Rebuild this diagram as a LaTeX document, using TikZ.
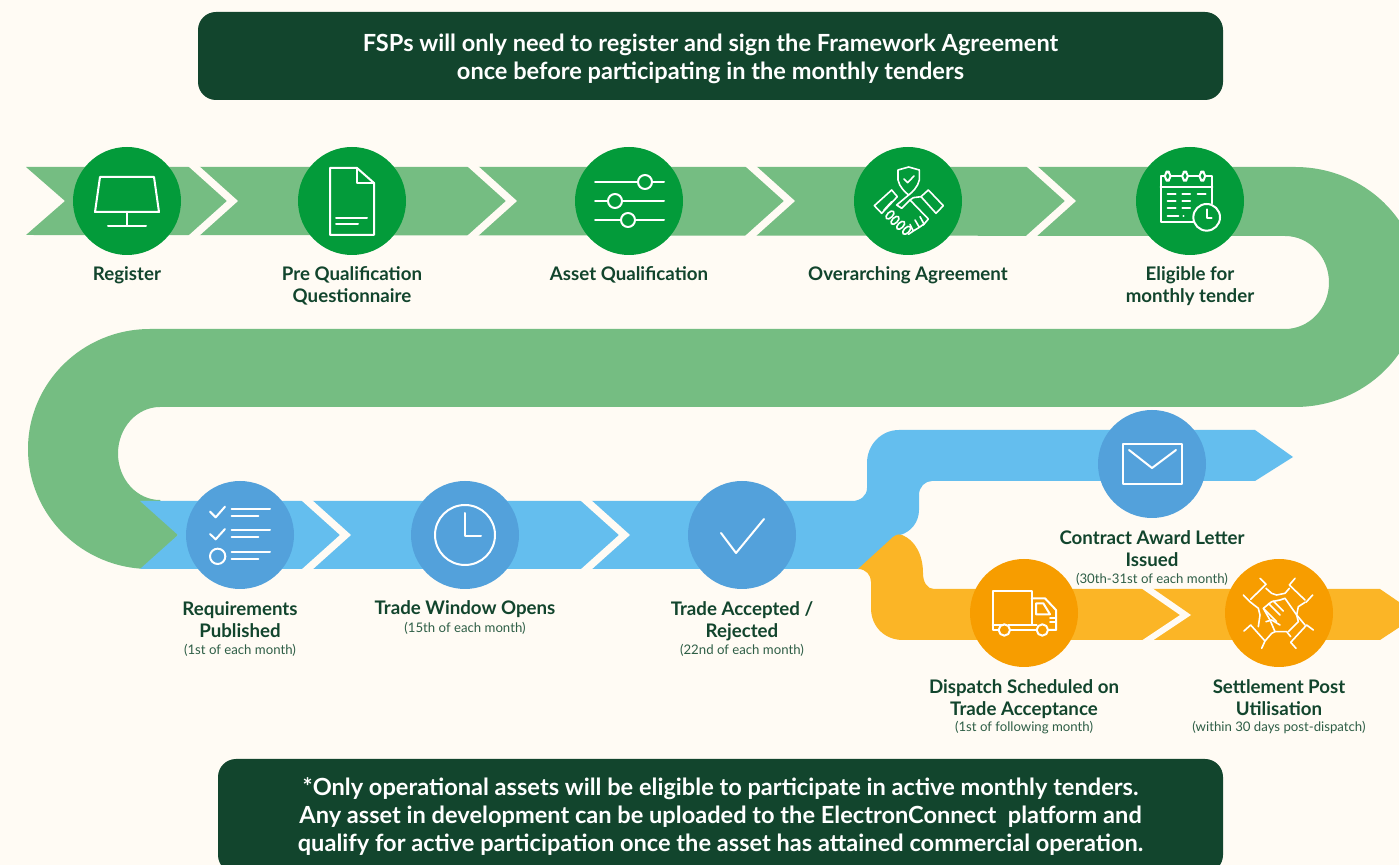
\documentclass[tikz,border=0pt]{standalone}
\usepackage{fontspec}
\setmainfont{Lato}
\definecolor{paper}{HTML}{FFFBF4}
\definecolor{darkgrn}{HTML}{12452D}
\definecolor{subgrn}{HTML}{2E5E46}
\definecolor{midgrn}{HTML}{039B3A}
\definecolor{bandgrn}{HTML}{75BD82}
\definecolor{bandblu}{HTML}{64BEEE}
\definecolor{midblu}{HTML}{53A1DB}
\definecolor{bandorg}{HTML}{FBB526}
\definecolor{midorg}{HTML}{F79D00}
\tikzset{
  stepnode/.style={circle,minimum size=54pt,inner sep=0pt,fill=#1},
  steplbl/.style={text=darkgrn,font=\bfseries\fontsize{9.35}{11}\selectfont,align=center,inner sep=0pt},
  datelbl/.style={text=subgrn,font=\fontsize{6.6}{8}\selectfont,align=center,inner sep=0pt},
  banner/.style={fill=darkgrn,rounded corners=9pt,inner sep=0pt},
  bannertxt/.style={text=white,align=center,inner sep=0pt,font=\bfseries\fontsize{11.8}{14}\selectfont},
  icon/.style={draw=white,line width=1pt,line join=round,line cap=round},
  thinicon/.style={icon,line width=.8pt},
  gapmark/.style={fill=paper}
}
\begin{document}
\begin{tikzpicture}[x=.5pt,y=-.5pt]
  \useasboundingbox (0,0) rectangle (1399,865);
  \clip (0,0) rectangle (1399,865);
  \fill [paper] (0,0) rectangle (1399,865);

  % the three bands
  \fill [bandgrn] (26,167) -- (1295,167) arc [start angle=-90,end angle=90,x radius=125,y radius=120]
    -- (160,407) arc [start angle=-90,end angle=-270,x radius=42,y radius=46.5]
    -- (178,535) -- (150,569) arc [start angle=90,end angle=270,x radius=122,y radius=120]
    -- (1285,329) arc [start angle=90,end angle=-90,x radius=44,y radius=46.5]
    -- (26,235) -- (65,201) -- cycle;
  \fill [bandblu] (140,501) -- (852,501) .. controls (860,501) and (867,496) .. (867,488)
    -- (867,463) .. controls (867,445) and (881,430) .. (899,430)
    -- (1255,430) -- (1293,457) -- (1255,481) -- (932,481)
    .. controls (925,481) and (919,487) .. (919,495)
    -- (919,510) .. controls (919,522) and (911,532) .. (900,535)
    -- (858,569) -- (140,569) -- (178,535) -- cycle;
  \fill [bandorg] (858,569) -- (893,537) .. controls (897,534) and (900,534) .. (902,535)
    .. controls (915,540) and (923,555) .. (923,573)
    .. controls (923,582) and (927,589) .. (934,589)
    -- (1380,589) -- (1418,615) -- (1380,640) -- (903,640)
    .. controls (885,640) and (871,627) .. (871,608)
    -- (871,582) .. controls (871,575) and (866,569) .. (858,569) -- cycle;

  % gaps between the arrows
  \foreach \a/\t/\m/\b in {188/166/201/236,467/166/201/236,745/166/201/236,1026/166/201/236,
      301/500/535/570,580/500/535/570,1141/588/615/641}
    \fill [gapmark] (\a,\t) -- (\a+39,\m) -- (\a,\b) -- (\a+11,\b) -- (\a+50,\m) -- (\a+11,\t) -- cycle;

  % banners
  \node [banner,minimum width=512.5pt,minimum height=44pt] (topbox) at (710.5,56) {};
  \node [bannertxt] (toptxt) at (710.5,58.5)
    {FSPs will only need to register and sign the Framework Agreement\\once before participating in the monthly tenders};
  \node [banner,minimum width=502.5pt,minimum height=57pt] (botbox) at (720.5,816) {};
  \node [bannertxt] (bottxt) at (720.5,817)
    {*Only operational assets will be eligible to participate in active monthly tenders.\\Any asset in development can be uploaded to the ElectronConnect\ \ platform and\\qualify for active participation once the asset has attained commercial operation.};

  % step circles
  \node [stepnode=midgrn] (reg) at (127,201) {};
  \node [stepnode=midgrn] (pqq) at (352,201) {};
  \node [stepnode=midgrn] (asset) at (629,201) {};
  \node [stepnode=midgrn] (agree) at (908,201) {};
  \node [stepnode=midgrn] (elig) at (1190,201) {};
  \node [stepnode=midblu] (req) at (240,535) {};
  \node [stepnode=midblu] (window) at (465,535) {};
  \node [stepnode=midblu] (accept) at (742,535) {};
  \node [stepnode=midblu] (award) at (1152,464) {};
  \node [stepnode=midorg] (dispatch) at (1024,613) {};
  \node [stepnode=midorg] (settle) at (1279,613) {};

  % labels
  \node [steplbl] (reglbl) at (127,275) {Register};
  \node [steplbl] (pqqlbl) at (352,285.5) {Pre Qualification\\Questionnaire};
  \node [steplbl] (assetlbl) at (629,274.5) {Asset Qualification};
  \node [steplbl] (agreelbl) at (908,275) {Overarching Agreement};
  \node [steplbl] (eliglbl) at (1190,286.5) {Eligible for\\monthly tender};
  \node [steplbl] (reqlbl) at (240,619.5) {Requirements\\Published};
  \node [datelbl] (reqdate) at (240,650) {(1st of each month)};
  \node [steplbl] (windowlbl) at (465,609.5) {Trade Window Opens};
  \node [datelbl] (windowdate) at (465,628) {(15th of each month)};
  \node [steplbl] (acceptlbl) at (742,621.5) {Trade Accepted /\\Rejected};
  \node [datelbl] (acceptdate) at (742,650) {(22nd of each month)};
  \node [steplbl] (awardlbl) at (1152,548.5) {Contract Award Letter\\Issued};
  \node [datelbl] (awarddate) at (1152,579) {(30th-31st of each month)};
  \node [steplbl] (dispatchlbl) at (1024,699.5) {Dispatch Scheduled on\\Trade Acceptance};
  \node [datelbl] (dispatchdate) at (1024,728) {(1st of following month)};
  \node [steplbl] (settlelbl) at (1279,698) {Settlement Post\\Utilisation};
  \node [datelbl] (settledate) at (1279,728) {(within 30 days post-dispatch)};

  % icons
  \begin{scope}[shift={(reg.center)}]
    \draw [icon] (-27,-24) -- (27,-24) -- (32,11) -- (-32,11) -- cycle;
    \draw [icon] (0,11) -- (0,25) (-19,25) -- (19,25);
  \end{scope}
  \begin{scope}[shift={(pqq.center)}]
    \draw [icon] (-22,-33) -- (5,-33) -- (22,-18) -- (22,34) -- (-22,34) -- cycle;
    \draw [icon] (5,-33) -- (5,-18) -- (22,-18);
    \draw [icon] (-16,17) -- (15,17) (-16,23) -- (6,23);
  \end{scope}
  \begin{scope}[shift={(asset.center)}]
    \foreach \y/\k in {-19/16,0/-14,19/-1} {
      \draw [icon] (-34,\y) -- (35,\y);
      \draw [icon,fill=midgrn] (\k,\y) circle (7);
    }
  \end{scope}
  \begin{scope}[shift={(860,155)},scale=1/3]
    \draw [thinicon] (146,36) -- (114,45) -- (114,75) .. controls (118,95) and (135,112) .. (146,120)
      .. controls (157,112) and (174,95) .. (178,75) -- (178,45) -- cycle;
    \draw [thinicon] (132,72) -- (143,83) -- (162,63);
    \draw [thinicon] (43,152) -- (95,105) -- (112,125) -- (65,175) -- cycle;
    \draw [thinicon] (205,105) -- (250,152) -- (228,175) -- (183,125) -- cycle;
    \draw [thinicon] (146,120) -- (110,150) -- (125,160) -- (150,135) -- (205,192) -- (190,210);
    \draw [thinicon] (183,125) -- (160,128) -- (150,135);
    \draw [thinicon] (95,140) -- (72,165);
    \draw [thinicon] (145,238) -- (160,228) -- (150,208) (160,228) -- (178,217) -- (165,195) (178,217) -- (192,207) -- (180,185);
    \foreach \x/\y in {90/180,105/196,122/211,140/226}
      \draw [thinicon,fill=midgrn] (\x,\y) ellipse [x radius=15,y radius=8,rotate=45];
  \end{scope}
  \begin{scope}[shift={(1145,160)},scale=1/3]
    \draw [icon] (145,185) -- (47,185) -- (47,48) -- (202,48) -- (202,130);
    \draw [icon] (47,82) -- (202,82);
    \foreach \x in {68,120,172}
      \draw [icon,fill=midgrn,rounded corners=2pt] (\x-8,35) rectangle (\x+8,62);
    \foreach \y in {102,122,145} {
      \draw [icon] (68,\y) -- (92,\y) (112,\y) -- (135,\y);
    }
    \draw [icon] (158,102) -- (182,102) (68,167) -- (100,167) (115,167) -- (116,167);
    \draw [icon,fill=midgrn] (185,172) circle (40);
    \draw [icon] (185,148) -- (185,175) -- (200,175);
  \end{scope}
  \begin{scope}[shift={(195,495)},scale=1/3]
    \draw [icon] (45,50) -- (62,67) -- (90,35) (45,117) -- (62,133) -- (90,102);
    \draw [icon] (68,184) circle (23);
    \foreach \y in {42,106,172}
      \draw [icon] (110,\y) -- (225,\y) (110,\y+21) -- (190,\y+21);
  \end{scope}
  \begin{scope}[shift={(window.center)}]
    \draw [icon] (0,0) circle (30);
    \draw [icon] (0,-22) -- (0,1) -- (16,1);
  \end{scope}
  \begin{scope}[shift={(accept.center)}]
    \draw [icon] (-21,-2) -- (-6,18) -- (22,-16);
  \end{scope}
  \begin{scope}[shift={(award.center)}]
    \draw [icon] (-29,-20) rectangle (30,20);
    \draw [icon] (-23,-14) -- (0,4) -- (24,-14);
  \end{scope}
  \begin{scope}[shift={(980,575)},scale=1/3]
    \draw [icon] (38,150) -- (38,47) -- (155,47) -- (155,150);
    \draw [icon] (38,150) -- (70,150) (85,150) -- (170,150);
    \draw [icon] (38,150) -- (38,165) -- (55,165) (90,165) -- (170,165);
    \draw [icon] (155,70) -- (195,70) -- (228,105) -- (228,165) -- (205,165);
    \draw [icon] (168,85) -- (190,85) -- (210,118) -- (168,118) -- cycle;
    \draw [icon] (210,130) -- (228,130) (210,140) -- (228,140);
    \draw [icon] (73,165) circle (17) (187,165) circle (17);
  \end{scope}
  \begin{scope}[shift={(1230,565)},scale=1/3]
    \draw [thinicon] (90,40) -- (108,58) -- (62,103) (40,90) -- (62,112);
    \draw [thinicon] (195,40) -- (178,60) -- (225,105) (248,90) -- (228,112);
    \draw [thinicon] (42,198) -- (62,180) -- (105,228) (125,205) -- (105,228) -- (95,250);
    \draw [thinicon] (250,195) -- (230,180) -- (182,232) -- (198,250);
    \draw [thinicon] (108,70) -- (125,85) -- (140,90) -- (165,85) -- (178,70);
    \draw [thinicon] (62,112) -- (85,130) -- (90,150) -- (85,185);
    \draw [thinicon] (225,112) -- (205,125) -- (200,150) -- (225,180);
    \draw [thinicon] (182,215) -- (170,200) -- (135,200) -- (125,205);
    \draw [thinicon] (135,200) -- (120,165) -- (100,130) -- (125,110) -- (150,105) -- (165,100) -- (200,150) -- (205,170) -- (175,200);
    \draw [thinicon] (115,115) -- (150,150) (130,108) -- (160,138) (100,130) -- (140,170);
    \draw [thinicon] (108,170) -- (125,165) -- (150,180);
  \end{scope}
\end{tikzpicture}
\end{document}
